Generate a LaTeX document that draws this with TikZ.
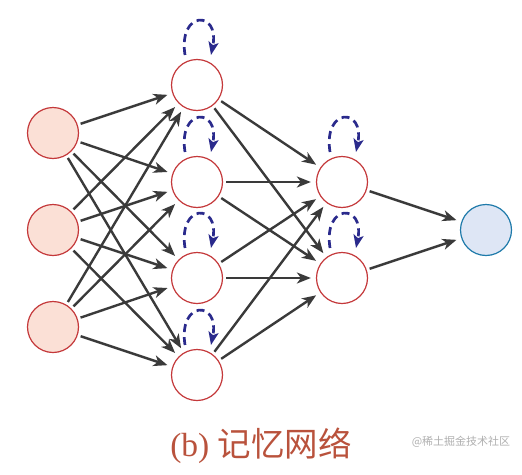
\documentclass[tikz,border=0pt]{standalone}
\usepackage{fontspec}
\setmainfont{Liberation Serif}
\newfontfamily\cjk{Noto Sans CJK SC}
\usetikzlibrary{arrows.meta}
\definecolor{nodered}{RGB}{196,56,58}
\definecolor{inpfill}{RGB}{251,224,214}
\definecolor{outfill}{RGB}{222,230,245}
\definecolor{outblue}{RGB}{30,122,170}
\definecolor{edgegray}{RGB}{58,58,58}
\definecolor{loopblue}{RGB}{42,42,140}
\definecolor{captionred}{RGB}{185,82,60}
\definecolor{wmgray}{RGB}{175,175,175}
\tikzset{
  neuron/.style={circle, minimum size=51pt, inner sep=0pt, line width=1.2pt},
  inpnode/.style={neuron, draw=nodered, fill=inpfill},
  hidnode/.style={neuron, draw=nodered, fill=white},
  outnode/.style={neuron, draw=outblue, fill=outfill},
  conn/.style={draw=edgegray, line width=2.4pt,
    -{Stealth[length=14pt, width=11pt, inset=4pt]},
    shorten <=3pt, shorten >=5pt},
  selfloop/.style={draw=loopblue, line width=2.7pt, dash pattern=on 8pt off 5pt,
    -{Stealth[length=13pt, width=10pt, inset=3pt]}}
}
\begin{document}
\begin{tikzpicture}[x=1pt, y=-1pt]
\useasboundingbox (0,0) rectangle (522,474);
% input layer
\node[inpnode] (i1) at (53,133) {};
\node[inpnode] (i2) at (53,230) {};
\node[inpnode] (i3) at (53,327) {};
% hidden 1
\node[hidnode] (a1) at (197,85) {};
\node[hidnode] (a2) at (197,182) {};
\node[hidnode] (a3) at (197,278) {};
\node[hidnode] (a4) at (197,375) {};
% hidden 2
\node[hidnode] (b1) at (342,182) {};
\node[hidnode] (b2) at (342,278) {};
% output
\node[outnode] (o) at (486,230) {};
% connections
\foreach \s in {i1,i2,i3}{
  \foreach \t in {a1,a2,a3,a4}{
    \draw[conn] (\s) -- (\t);
  }
}
\foreach \s in {a1,a2,a3,a4}{
  \foreach \t in {b1,b2}{
    \draw[conn] (\s) -- (\t);
  }
}
\foreach \s in {b1,b2}{
  \draw[conn] (\s) -- (o);
}
% self loops
\foreach \n in {a1,a2,a3,a4,b1,b2}{
  \draw[selfloop] ([shift={(-12,-30)}]\n.center) .. controls +(-7,-45) and +(9,-45) .. ([shift={(14,-30)}]\n.center);
}
% caption
\node[text=captionred, font=\fontsize{33.5}{38}\selectfont, inner sep=0pt] (cap) at (261,446) {(b) {\cjk 记忆网络}};
\node[text=wmgray, font=\fontsize{11}{13}\selectfont\cjk, inner sep=0pt] (wm) at (461,442) {@稀土掘金技术社区};
\end{tikzpicture}
\end{document}
